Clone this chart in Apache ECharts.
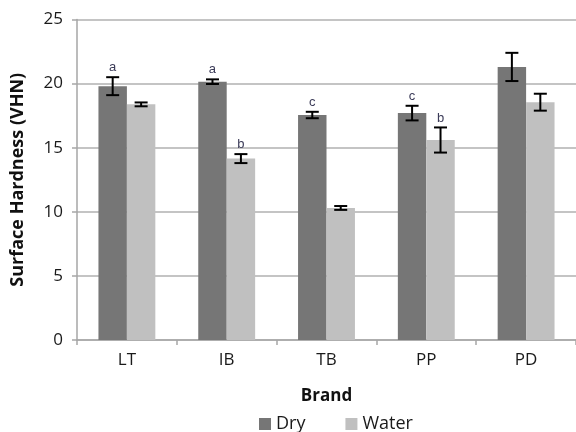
<!DOCTYPE html>
<html>
<head>
<meta charset="utf-8">
<script src="https://cdn.jsdelivr.net/npm/echarts@6/dist/echarts.min.js"></script>
<style>html,body{margin:0;padding:0;background:#fff}#c{width:576px;height:432px}</style>
</head>
<body>
<div id="c"></div>
<script>
const categories = ['LT', 'IB', 'TB', 'PP', 'PD'];
const dryValues = [19.8, 20.15, 17.55, 17.7, 21.3];
const dryErrors = [0.7, 0.18, 0.25, 0.57, 1.1];
const waterValues = [18.38, 14.15, 10.3, 15.6, 18.55];
const waterErrors = [0.15, 0.35, 0.15, 0.98, 0.66];
const dryLetters = ['a', 'a', 'c', 'c', ''];
const waterLetters = ['', 'b', '', 'b', ''];
const yTicks = [0, 5, 10, 15, 20, 25];

const FONT = '"Open Sans", sans-serif';
const BAR_FRAC = 0.285;

function errRenderer(side, letters) {
  return function (params, api) {
    const idx = api.value(0), mean = api.value(1), err = api.value(2);
    const c = api.coord([idx, mean]);
    const band = api.size([1, 0])[0];
    const x = c[0] + side * band * BAR_FRAC / 2;
    const top = api.coord([idx, mean + err])[1];
    const bot = api.coord([idx, mean - err])[1];
    const cap = 6.5;
    const st = { stroke: '#000', lineWidth: 2 };
    const children = [
      { type: 'line', shape: { x1: x, y1: top, x2: x, y2: bot }, style: st },
      { type: 'line', shape: { x1: x - cap, y1: top, x2: x + cap, y2: top }, style: st },
      { type: 'line', shape: { x1: x - cap, y1: bot, x2: x + cap, y2: bot }, style: st }
    ];
    const letter = letters[params.dataIndex];
    if (letter) {
      children.push({
        type: 'text',
        style: { text: letter, x: x, y: top - 3, textAlign: 'center', textVerticalAlign: 'bottom',
                 fill: '#3b3b58', font: '13px "Liberation Sans", Arial, sans-serif' }
      });
    }
    return { type: 'group', children: children };
  };
}

const chart = echarts.init(document.getElementById('c'));
chart.setOption({
  animation: false,
  grid: { left: 77, top: 19.5, right: -3, bottom: 92, containLabel: false },
  legend: {
    data: ['Dry', 'Water'],
    left: 254, top: 410,
    itemWidth: 12, itemHeight: 12, itemGap: 40,
    icon: 'rect',
    textStyle: { fontFamily: FONT, fontSize: 18, color: '#1a1a1a' }
  },
  xAxis: {
    type: 'category',
    data: categories,
    name: 'Brand',
    nameLocation: 'middle',
    nameGap: 48,
    nameTextStyle: { fontFamily: FONT, fontSize: 17, fontWeight: 'bold', color: '#111' },
    axisLine: { lineStyle: { color: '#a6a6a6', width: 1.5 } },
    axisTick: { show: true, length: 5, lineStyle: { color: '#a6a6a6', width: 1.5 } },
    axisLabel: { fontFamily: FONT, fontSize: 17, color: '#1a1a1a', margin: 12 }
  },
  yAxis: {
    type: 'value',
    min: 0, max: 25, interval: 5,
    name: 'Surface Hardness (VHN)',
    nameLocation: 'middle',
    nameGap: 50,
    nameTextStyle: { fontFamily: FONT, fontSize: 18, fontWeight: 'bold', color: '#111' },
    axisLine: { show: true, lineStyle: { color: '#a6a6a6', width: 1.5 } },
    axisTick: { show: true, length: 5, lineStyle: { color: '#a6a6a6', width: 1.5 } },
    axisLabel: { fontFamily: FONT, fontSize: 17, color: '#1a1a1a', margin: 14,
      formatter: function (v) { return yTicks.indexOf(v) >= 0 ? String(v) : ''; } },
    splitLine: { show: true, lineStyle: { color: '#b0b0b0', width: 1.5 } }
  },
  series: [
    { name: 'Dry', type: 'bar', data: dryValues, barWidth: (BAR_FRAC * 100) + '%', barGap: '0%',
      itemStyle: { color: '#767676' } },
    { name: 'Water', type: 'bar', data: waterValues, barWidth: (BAR_FRAC * 100) + '%', barGap: '0%',
      itemStyle: { color: '#c0c0c0' } },
    { name: 'DryErr', type: 'custom', z: 10, renderItem: errRenderer(-1, dryLetters),
      data: dryValues.map((v, i) => [i, v, dryErrors[i]]) },
    { name: 'WaterErr', type: 'custom', z: 10, renderItem: errRenderer(1, waterLetters),
      data: waterValues.map((v, i) => [i, v, waterErrors[i]]) }
  ]
});
</script>
</body>
</html>
